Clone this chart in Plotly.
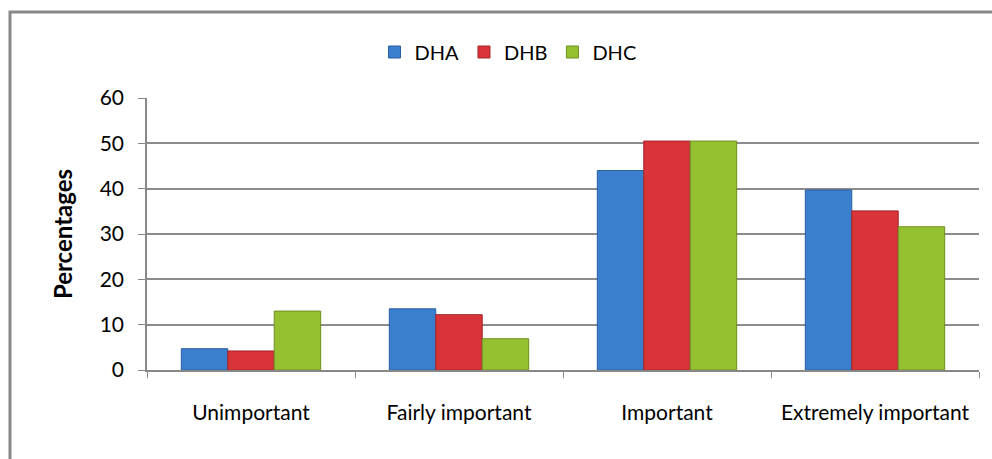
import plotly.graph_objects as go

categories = ["Unimportant", "Fairly important", "Important", "Extremely important"]
series_names = ["DHA", "DHB", "DHC"]
dha = [4.7, 13.5, 44.0, 39.7]
dhb = [4.2, 12.2, 50.5, 35.1]
dhc = [13.0, 6.9, 50.5, 31.6]
y_ticks = [0, 10, 20, 30, 40, 50, 60]

colors = ["#3b7fcf", "#d8343a", "#95c030"]
edges = ["#2a5e9c", "#a22428", "#6e8f22"]

W, H = 992, 459
L, R, T, B = 147, 13, 98, 89
pw, ph = W - L - R, H - T - B

fig = go.Figure()
for name, vals, c, e in zip(series_names, [dha, dhb, dhc], colors, edges):
    fig.add_trace(go.Bar(name=name, x=categories, y=vals,
                         marker=dict(color=c, line=dict(color=e, width=1))))

font = "Lato, 'Open Sans', sans-serif"
fig.update_layout(
    width=W, height=H,
    margin=dict(l=L, r=R, t=T, b=B),
    paper_bgcolor="white", plot_bgcolor="white",
    barmode="group", bargap=0.33, bargroupgap=0,
    font=dict(family=font, size=21, color="#000"),
    showlegend=True,
    legend=dict(orientation="h", x=(508 - L) / pw, xanchor="center",
                y=(H - B - 52) / ph, yanchor="middle",
                font=dict(size=20), itemwidth=30, traceorder="normal"),
    xaxis=dict(showline=True, linecolor="#888", linewidth=1.5,
               ticks="outside", tickson="boundaries", ticklen=6, tickcolor="#888",
               tickfont=dict(size=21), showgrid=False, ticklabelstandoff=23),
    yaxis=dict(range=[0, 60], tickvals=y_ticks, showline=True, linecolor="#888",
               linewidth=1.5, ticks="outside", ticklen=7, tickcolor="#888",
               gridcolor="#8c8c8c", gridwidth=1.5, zeroline=False,
               tickfont=dict(size=21), ticklabelstandoff=10,
               title=dict(text="<b>Percentages</b>", font=dict(size=24), standoff=20)),
    shapes=[dict(type="rect", xref="paper", yref="paper",
                 x0=(10 - L) / pw, x1=(W + 20 - L) / pw,
                 y0=(H - B - (H + 20)) / ph, y1=(H - B - 12) / ph,
                 line=dict(color="#888", width=3), layer="below")],
)

fig.write_html("out.html", config={"displayModeBar": False},
               post_script="document.body.style.margin='0px';")
